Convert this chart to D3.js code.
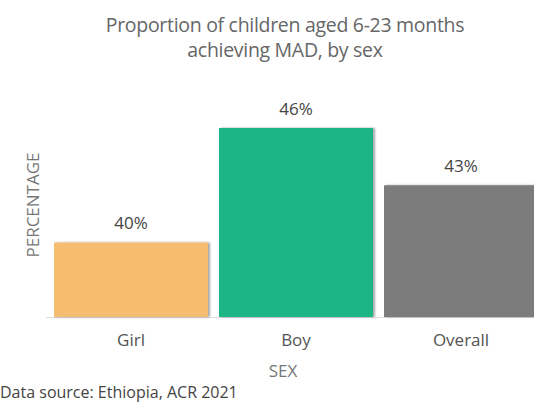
<!DOCTYPE html>
<html>
<head>
<meta charset="utf-8">
<script src="https://cdn.jsdelivr.net/npm/d3@7"></script>
<style>
  body { margin: 0; background: #fff; }
  svg { display: block; font-family: "Open Sans", sans-serif; }
</style>
</head>
<body>
<svg id="chart" width="534" height="407"></svg>
<script>
const categories = ["Girl", "Boy", "Overall"];
const values = [40, 46, 43];
const colors = ["#f6bd6f", "#1bb585", "#7b7b7b"];

const svg = d3.select("#chart");
const baseY = 317;

const x = d3.scaleBand()
  .domain(categories)
  .range([54, 538])
  .paddingInner(0.0667)
  .paddingOuter(0);

const y = d3.scaleLinear()
  .domain([36.1, 46])
  .range([baseY, 128]);

const half = x.bandwidth() / 2;

// drop shadow on bars
const defs = svg.append("defs");
const f = defs.append("filter").attr("id", "shadow")
  .attr("x", "-5%").attr("y", "-5%").attr("width", "115%").attr("height", "110%");
f.append("feDropShadow")
  .attr("dx", 2).attr("dy", 0).attr("stdDeviation", 1.2)
  .attr("flood-color", "#000").attr("flood-opacity", 0.35);

// title
const title = svg.append("text")
  .attr("text-anchor", "middle")
  .attr("fill", "#666")
  .style("font-size", "19.5px")
  .style("letter-spacing", "-0.3px");
title.append("tspan").attr("x", 285).attr("y", 32).text("Proportion of children aged 6-23 months");
title.append("tspan").attr("x", 285).attr("y", 57).text("achieving MAD, by sex");

// baseline
svg.append("line")
  .attr("x1", 46).attr("x2", 534)
  .attr("y1", baseY + 0.5).attr("y2", baseY + 0.5)
  .attr("stroke", "#ddd").attr("stroke-width", 1);

// bars
svg.append("g").selectAll("rect")
  .data(categories)
  .join("rect")
  .attr("x", d => x(d))
  .attr("y", (d, i) => y(values[i]))
  .attr("width", x.bandwidth())
  .attr("height", (d, i) => baseY - y(values[i]))
  .attr("fill", (d, i) => colors[i])
  .attr("filter", "url(#shadow)");

// value labels
svg.append("g").selectAll("text")
  .data(categories)
  .join("text")
  .attr("x", d => x(d) + half)
  .attr("y", (d, i) => y(values[i]) - 13.5)
  .attr("text-anchor", "middle")
  .attr("fill", "#444")
  .style("font-size", "17px")
  .text((d, i) => values[i] + "%");

// x axis
const xAxis = svg.append("g")
  .attr("transform", `translate(0,${baseY})`)
  .call(d3.axisBottom(x).tickSize(0).tickPadding(17));
xAxis.select(".domain").remove();
xAxis.selectAll("text")
  .attr("fill", "#555")
  .style("font-family", "'Open Sans', sans-serif")
  .style("font-size", "17px");

// axis titles
svg.append("text")
  .attr("x", 283).attr("y", 377)
  .attr("text-anchor", "middle")
  .attr("fill", "#777")
  .style("font-size", "17px")
  .text("SEX");

svg.append("text")
  .attr("transform", "translate(39,205) rotate(-90)")
  .attr("text-anchor", "middle")
  .attr("fill", "#777")
  .style("font-size", "17px")
  .text("PERCENTAGE");

// source
svg.append("text")
  .attr("x", 0).attr("y", 398)
  .attr("fill", "#444")
  .style("font-size", "16px")
  .text("Data source: Ethiopia, ACR 2021");
</script>
</body>
</html>
